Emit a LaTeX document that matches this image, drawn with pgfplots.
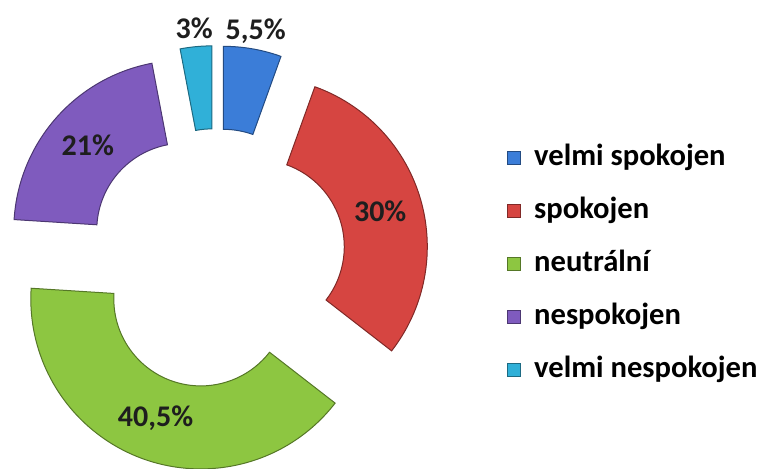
\documentclass[border=0pt]{standalone}
\usepackage{pgfplots}
\pgfplotsset{compat=1.18}
\usepackage{pgfplotstable}
\usepackage{fontspec}
\setmainfont{Carlito}
\definecolor{cA}{HTML}{3B7DD8}
\definecolor{cB}{HTML}{D64541}
\definecolor{cC}{HTML}{8DC641}
\definecolor{cD}{HTML}{7F5BBE}
\definecolor{cE}{HTML}{30B0D8}
\definecolor{lbl}{HTML}{1E1E1E}

\pgfplotstableread[col sep=comma]{
value,color
5.5,cA
30,cB
40.5,cC
21,cD
3,cE
}\piedata

% geometry (picture units: 1 unit = 1 px of the reference)
\def\cx{216}\def\cy{210.3}\def\rin{87}\def\rout{170}\def\dexp{43}
\newcommand\labelfont{\fontsize{15}{17}\selectfont\bfseries}
\newcommand\legendfont{\fontsize{15.3}{17}\selectfont\bfseries}

\xdef\cumsum{0}
\foreach \i in {0,...,4}{%
  \pgfplotstablegetelem{\i}{value}\of\piedata
  \let\v\pgfplotsretval
  \pgfmathsetmacro\a{90-3.6*\cumsum}
  \pgfmathsetmacro\b{\a-3.6*\v}
  \expandafter\xdef\csname secA\i\endcsname{\a}
  \expandafter\xdef\csname secB\i\endcsname{\b}
  \expandafter\xdef\csname secV\i\endcsname{\v}
  \pgfplotstablegetelem{\i}{color}\of\piedata
  \expandafter\xdef\csname secC\i\endcsname{\pgfplotsretval}
  \pgfmathsetmacro\c{\cumsum+\v}
  \xdef\cumsum{\c}
}

\newcommand\sector[1]{%
  \pgfmathsetmacro\sa{\csname secA#1\endcsname}%
  \pgfmathsetmacro\sb{\csname secB#1\endcsname}%
  \pgfmathsetmacro\sm{(\sa+\sb)/2}%
  \pgfmathsetmacro\px{\cx+\dexp*cos(\sm)}%
  \pgfmathsetmacro\py{\cy+\dexp*sin(\sm)}%
  \edef\v{\csname secV#1\endcsname}%
  \pgfmathsetmacro\lr{\v<10 ? 188 : 128}%
  \edef\col{\csname secC#1\endcsname}%
  \edef\temp{\noexpand\fill[fill=\col, draw=\col!60!black, line width=0.5pt]
    ([shift={(\sa:\rout*0.5pt)}]axis cs:\px,\py)
    arc[start angle=\sa, end angle=\sb, radius=\rout*0.5pt]
    -- ([shift={(\sb:\rin*0.5pt)}]axis cs:\px,\py)
    arc[start angle=\sb, end angle=\sa, radius=\rin*0.5pt] -- cycle;
    \noexpand\node[font=\noexpand\labelfont, text=lbl, inner sep=0pt]
      at ([shift={(\sm:\lr*0.5pt)}]axis cs:\px,\py)
      {\noexpand\pgfmathprintnumber[use comma, assume math mode=true]{\v}\noexpand\%};}%
  \temp
}

\begin{document}
\begin{tikzpicture}
\begin{axis}[
  x=0.5pt, y=0.5pt,
  xmin=0, xmax=765, ymin=0, ymax=469,
  hide axis, clip=false,
  legend style={at={(axis cs:501,329)}, anchor=north west, draw=none, fill=none,
    font=\legendfont, row sep=12.8pt,
    nodes={inner sep=0pt, text height=10.5pt, text depth=3.2pt},
    /tikz/every odd column/.append style={column sep=6.5pt}},
  legend image code/.code={\filldraw[#1] (0pt,-3.25pt) rectangle (6.5pt,3.25pt);},
  legend cell align=left,
]
\coordinate (ll) at (rel axis cs:0,0);
\coordinate (ur) at (rel axis cs:1,1);
\pgfplotsinvokeforeach{0,...,4}{\sector{#1}}
\addlegendimage{fill=cA, draw=cA!60!black, line width=0.4pt}
\addlegendimage{fill=cB, draw=cB!60!black, line width=0.4pt}
\addlegendimage{fill=cC, draw=cC!60!black, line width=0.4pt}
\addlegendimage{fill=cD, draw=cD!60!black, line width=0.4pt}
\addlegendimage{fill=cE, draw=cE!60!black, line width=0.4pt}
\legend{velmi spokojen, spokojen, neutrální, nespokojen, velmi nespokojen}
\end{axis}
\pgfresetboundingbox
\path (ll) rectangle (ur);
\end{tikzpicture}
\end{document}
